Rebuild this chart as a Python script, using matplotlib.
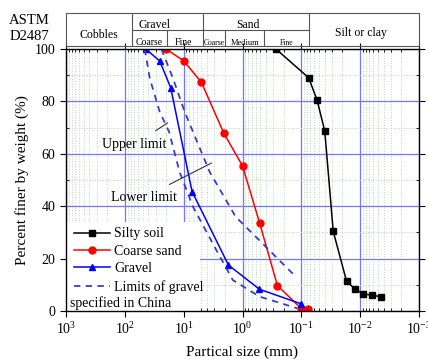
import numpy as np
import matplotlib
matplotlib.use("Agg")
import matplotlib.pyplot as plt
from matplotlib.patches import Rectangle
from matplotlib.ticker import LogLocator, LogFormatterMathtext, MultipleLocator

# --------------------------
# 1. Data
# --------------------------
silt_size = [0.27, 0.075, 0.054, 0.040, 0.0287, 0.017, 0.0122, 0.0088, 0.0062, 0.0045]
silt_pct = [100, 89.0, 80.5, 68.7, 30.4, 11.3, 8.4, 6.5, 6.0, 5.5]

sand_size = [20, 10, 5, 2.07, 1.0, 0.51, 0.255, 0.1, 0.076]
sand_pct = [100, 95.5, 87.3, 67.8, 55.4, 33.5, 9.7, 0.9, 0.6]

gravel_size = [44, 25.5, 16.6, 7.2, 1.73, 0.515, 0.1]
gravel_pct = [100, 95.4, 85.2, 45.6, 17.5, 8.3, 2.7]

upper_size = [45.8, 37.7, 25.5, 17.7, 11.7, 6.95, 2.79, 1.46, 0.515, 0.116]
upper_pct = [100, 88.8, 76, 68.4, 53, 39.8, 23.3, 11.8, 5.5, 1]

lower_size = [23.9, 15.2, 9.6, 6.95, 3.6, 1.31, 0.123]
lower_pct = [100, 88.8, 76, 68.4, 53, 36, 13]

# ASTM D2487 class boundaries (mm)
bounds_main = [75, 4.75, 0.075]
bounds_sub = [19, 2, 0.425]

plt.rcParams['font.family'] = ['Liberation Serif', 'DejaVu Serif']
plt.rcParams['mathtext.fontset'] = 'stix'

# --------------------------
# 2. Main plot
# --------------------------
fig = plt.figure(figsize=(4.28, 3.64), dpi=100)
L, R, B, T = 66 / 428, 419 / 428, 1 - 311 / 364, 1 - 49 / 364
ax = fig.add_axes([L, B, R - L, T - B])

ax.set_xscale('log')
ax.set_xlim(1000, 0.001)
ax.set_ylim(0, 100)

ax.grid(True, which='major', color='#7777ee', linewidth=0.9)
ax.grid(True, which='minor', color='#b5dcb5', linewidth=0.7, linestyle=':')
ax.yaxis.set_major_locator(MultipleLocator(20))
ax.yaxis.set_minor_locator(MultipleLocator(10))
ax.xaxis.set_major_locator(LogLocator(base=10))
ax.xaxis.set_minor_locator(LogLocator(base=10, subs=np.arange(2, 10)))
ax.xaxis.set_major_formatter(LogFormatterMathtext())
ax.set_axisbelow(True)

# white legend area hides the grid
ax.add_patch(Rectangle((0, 0), 0.38, 0.34, transform=ax.transAxes,
                       facecolor='white', edgecolor='none', zorder=1.5))

ax.plot(silt_size, silt_pct, '-s', color='black', lw=1.1, ms=4.5, label='Silty soil')
ax.plot(sand_size, sand_pct, '-o', color='#ff0000', lw=1.1, ms=5, label='Coarse sand')
ax.plot(gravel_size, gravel_pct, '-^', color='#0000ff', lw=1.1, ms=5, label='Gravel')
ax.plot(upper_size, upper_pct, '--', color='#3a3acc', lw=1.3, dashes=(3.5, 3),
        label='Limits of gravel')
ax.plot(lower_size, lower_pct, '--', color='#3a3acc', lw=1.3, dashes=(3.5, 3))

ax.annotate('Upper limit', xy=(18.7, 71.8), xytext=(69, 63.5),
            ha='center', va='center', fontsize=10,
            arrowprops=dict(arrowstyle='-', color='#333333', lw=0.8, shrinkA=6, shrinkB=0))
ax.annotate('Lower limit', xy=(3.35, 56.5), xytext=(47.6, 43.3),
            ha='center', va='center', fontsize=10,
            arrowprops=dict(arrowstyle='-', color='#333333', lw=0.8, shrinkA=6, shrinkB=0))

ax.tick_params(which='major', direction='out', length=4, labelsize=10, right=True, top=True)
ax.tick_params(which='minor', direction='in', length=2, right=True, top=True)
for s in ax.spines.values():
    s.set_linewidth(1.0)

ax.set_xlabel('Partical size (mm)', fontsize=11, labelpad=6)
ax.set_ylabel('Percent finer by weight (%)', fontsize=11, labelpad=4)

leg = ax.legend(loc='upper left', bbox_to_anchor=(-0.005, 0.356), fontsize=10,
                handlelength=2.6, labelspacing=0.32, borderpad=0.2,
                handletextpad=0.3, frameon=False)
ax.text(0.012, 0.032, 'specified in China', transform=ax.transAxes,
        fontsize=10, ha='left', va='center', zorder=10)

# --------------------------
# 3. ASTM header table
# --------------------------
hb, ht = 1 - 46 / 364, 1 - 13 / 364
axh = fig.add_axes([L, hb, R - L, ht - hb])
axh.set_xscale('log')
axh.set_xlim(1000, 0.001)
axh.set_ylim(0, 1)
axh.axis('off')
lc = '#555555'
axh.plot([1000, 0.001, 0.001, 1000, 1000], [0, 0, 1, 1, 0], color=lc, lw=0.8, clip_on=False)
for b in bounds_main:
    axh.plot([b, b], [0, 1], color=lc, lw=0.8)
axh.plot([bounds_main[0], bounds_main[-1]], [0.5, 0.5], color=lc, lw=0.8)
for b in bounds_sub:
    axh.plot([b, b], [0, 0.5], color=lc, lw=0.8)

axh.text(281, 0.33, 'Cobbles', ha='center', va='center', fontsize=8.5)
axh.text(31, 0.64, 'Gravel', ha='center', va='center', fontsize=8.5)
axh.text(0.81, 0.64, 'Sand', ha='center', va='center', fontsize=8.5)
axh.text(0.0098, 0.39, 'Silt or clay', ha='center', va='center', fontsize=8.5)
axh.text(38, 0.1, 'Coarse', ha='center', va='center', fontsize=7)
axh.text(10.2, 0.1, 'Fine', ha='center', va='center', fontsize=7)
axh.text(3.0, 0.1, 'Coarse', ha='center', va='center', fontsize=5.5)
axh.text(0.92, 0.1, 'Medium', ha='center', va='center', fontsize=6)
axh.text(0.18, 0.08, 'Fine', ha='center', va='center', fontsize=5.5)

fig.text(29 / 428, 1 - 20 / 364, 'ASTM', ha='center', va='center', fontsize=10.5)
fig.text(29 / 428, 1 - 36 / 364, 'D2487', ha='center', va='center', fontsize=10.5)

fig.savefig('out.png', dpi=100)
